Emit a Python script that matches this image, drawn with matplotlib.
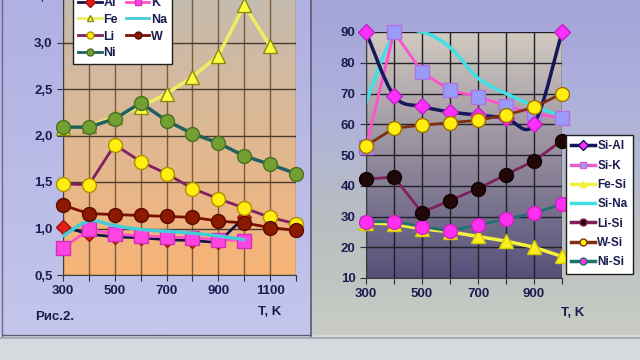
import numpy as np
import matplotlib
matplotlib.use("Agg")
import matplotlib.pyplot as plt
from matplotlib.colors import LinearSegmentedColormap
from matplotlib.path import Path
from matplotlib.patches import PathPatch, Rectangle
from matplotlib.lines import Line2D

plt.rcParams['font.family'] = ['Liberation Sans', 'DejaVu Sans']
plt.rcParams['font.weight'] = 'bold'

# ---- left chart data (Рис.2) ----
t_left = [300, 400, 500, 600, 700, 800, 900, 1000, 1100, 1200]
al = [1.02, 0.94, 0.91, 0.90, 0.88, 0.87, 0.85, 1.12]
k = [0.79, 0.99, 0.94, 0.92, 0.91, 0.90, 0.88, 0.87]
fe = [2.08, 2.10, 2.20, 2.31, 2.45, 2.63, 2.86, 3.40, 2.96]
na = [0.92, 1.08, 1.03, 0.99, 0.97, 0.95, 0.92, 0.88]
li = [1.48, 1.47, 1.90, 1.72, 1.59, 1.43, 1.32, 1.22, 1.12, 1.05]
w = [1.25, 1.16, 1.15, 1.14, 1.13, 1.12, 1.08, 1.06, 1.01, 0.98]
ni = [2.09, 2.09, 2.18, 2.35, 2.16, 2.02, 1.92, 1.78, 1.69, 1.59]
left_yticks = [0.5, 1.0, 1.5, 2.0, 2.5, 3.0, 3.5]
left_ylabels = ['0,5', '1,0', '1,5', '2,0', '2,5', '3,0', '3,5']
left_xlabels = [300, 500, 700, 900, 1100]

# ---- right chart data ----
t_right = [300, 400, 500, 600, 700, 800, 900, 1000]
si_al = [90, 69.3, 65.8, 64, 63, 62, 60, 90]
si_k = [52.7, 90, 77, 71, 69, 66, 63.5, 62]
fe_si = [28, 27.5, 26, 25, 23.5, 22, 20, 17]
si_na = [67, 89, 90, 85, 75, 70, 66, 62.5]
li_si = [42.2, 42.8, 31.3, 35.2, 39.1, 43.6, 48.1, 54.7]
w_si = [53, 58.7, 59.7, 60.5, 61.3, 63, 65.5, 70]
ni_si = [28.3, 28.3, 26.7, 25.3, 27.3, 29.1, 31.1, 34]
right_yticks = [10, 20, 30, 40, 50, 60, 70, 80, 90]
right_xlabels = [300, 500, 700, 900]

txt = '#1c1c50'


def smooth_path(xs, ys):
    # Catmull-Rom through the points, drawn as cubic Bezier segments
    pts = np.column_stack([xs, ys]).astype(float)
    verts = [pts[0]]
    codes = [Path.MOVETO]
    n = len(pts)
    for i in range(n - 1):
        p0 = pts[i - 1] if i > 0 else pts[i]
        p1 = pts[i]
        p2 = pts[i + 1]
        p3 = pts[i + 2] if i + 2 < n else pts[i + 1]
        c1 = p1 + (p2 - p0) / 6.0
        c2 = p2 - (p3 - p1) / 6.0
        verts += [c1, c2, p2]
        codes += [Path.CURVE4] * 3
    return Path(verts, codes)


def smooth_line(ax, xs, ys, color, lw, z):
    ax.add_patch(PathPatch(smooth_path(xs, ys), fill=False, edgecolor=color,
                           lw=lw, zorder=z, capstyle='round'))


def gradient(ax, top, bottom):
    cmap = LinearSegmentedColormap.from_list('g', [bottom, top])
    x0, x1 = ax.get_xlim()
    y0, y1 = ax.get_ylim()
    ax.imshow(np.linspace(0, 1, 256).reshape(-1, 1), cmap=cmap, origin='lower',
              extent=[x0, x1, y0, y1], aspect='auto', zorder=0)


fig = plt.figure(figsize=(6.4, 3.6), dpi=100)

# background
bg = fig.add_axes([0, 0, 1, 1])
bg.set_xlim(0, 640)
bg.set_ylim(360, 0)
bg.axis('off')
lcm = LinearSegmentedColormap.from_list('l', ['#b0b0e2', '#c4c6ec'])
rcm = LinearSegmentedColormap.from_list('r', ['#a4a4d8', '#b0b2dc', '#b8bec0', '#c8ccc4'])
grad = np.linspace(0, 1, 256).reshape(-1, 1)
bg.imshow(grad, cmap=lcm, extent=[0, 312, 335, 0], aspect='auto', zorder=0)
bg.imshow(grad, cmap=rcm, extent=[312, 640, 335, 0], aspect='auto', zorder=0)
bg.add_patch(Rectangle((0, 335), 640, 25, color='#d6dadf', zorder=1))
bg.plot([0, 640], [338, 338], color='#a0a4b0', lw=1.2, zorder=2)
bg.plot([311, 311], [0, 336], color='#5a5a70', lw=1.2, zorder=2)
bg.plot([2, 2], [0, 336], color='#6a6a88', lw=1.0, zorder=2)
bg.plot([2, 311], [335, 335], color='#5a5a70', lw=1.0, zorder=2)

# ---- left axes ----
ax1 = fig.add_axes([63 / 640, 1 - 275 / 360, 233 / 640, 279 / 360])
ax1.set_xlim(300, 1200)
ax1.set_ylim(0.5, 3.5)
gradient(ax1, '#c4bcb0', '#f8b476')
for x in t_left:
    ax1.axvline(x, color='#7a5a3a', lw=1.0, zorder=1)
for y in left_yticks:
    ax1.axhline(y, color='#4a3a30', lw=1.0, zorder=1)

ax1.plot(t_left[:len(fe)], fe, color='#eeee60', lw=2.5, marker='^', ms=10,
         mfc='#ffff40', mec='#8a8a10', mew=1, zorder=3, clip_on=False, label='Fe')
ax1.plot(t_left, ni, color='#1f6060', lw=2.5, marker='o', ms=10,
         mfc='#72a032', mec='#4a7020', mew=1, zorder=4, clip_on=False, label='Ni')
ax1.plot(t_left, li, color='#802060', lw=2, marker='o', ms=10,
         mfc='#ffee10', mec='#b09000', mew=1, zorder=4, clip_on=False, label='Li')
ax1.plot(t_left, w, color='#7a1000', lw=2, marker='o', ms=10,
         mfc='#8b1a00', mec='#5a0a00', mew=1, zorder=4, clip_on=False, label='W')
ax1.plot(t_left[:len(al)], al, color='#14144a', lw=2, marker='D', ms=7,
         mfc='#e02018', mec='#a01010', mew=1, zorder=3, clip_on=False, label='Al')
ax1.plot(t_left[:len(k)], k, color='#ff50c8', lw=2, marker='s', ms=10,
         mfc='#ff44e0', mec='#d030c0', mew=1, zorder=3, clip_on=False, label='K')
smooth_line(ax1, t_left[:len(na)], na, '#44ccd8', 2.5, 3.5)
ax1.plot([], [], color='#44ccd8', lw=2.5, label='Na')

ax1.set_xticks(t_left)
ax1.set_xticklabels([str(x) if x in left_xlabels else '' for x in t_left])
ax1.set_yticks(left_yticks)
ax1.set_yticklabels(left_ylabels)
ax1.tick_params(colors='#303040', labelcolor=txt, labelsize=9.5, length=4)
for s in ax1.spines.values():
    s.set_visible(False)
ax1.spines['bottom'].set_visible(True)
ax1.spines['left'].set_visible(True)
ax1.spines['bottom'].set_color('#404040')
ax1.spines['left'].set_color('#404040')

h, lab = ax1.get_legend_handles_labels()
order = ['Al', 'Fe', 'Li', 'Ni', 'K', 'Na', 'W']
hl = [h[lab.index(o)] for o in order]
handles = []
for hh in hl:
    handles.append(Line2D([], [], color=hh.get_color(), lw=2,
                          marker=hh.get_marker(), ms=5,
                          mfc=hh.get_markerfacecolor(), mec=hh.get_markeredgecolor()))
leg1 = fig.legend(handles, order, ncol=2, loc='upper left',
                  bbox_to_anchor=(73 / 640, 1 + 8 / 360), frameon=True,
                  fancybox=False, edgecolor='#202020', framealpha=1,
                  prop={'size': 9, 'weight': 'bold'}, handlelength=1.9,
                  columnspacing=0.6, labelspacing=0.38, handletextpad=0.15,
                  borderpad=0.4, borderaxespad=0)
for t in leg1.get_texts():
    t.set_color(txt)

fig.text(270 / 640, 1 - 312 / 360, 'T, K', ha='center', va='center',
         fontsize=9.5, color=txt)
fig.text(35 / 640, 1 - 317 / 360, 'Рис.2.', ha='left', va='center',
         fontsize=9.5, color=txt)

# ---- right axes ----
ax2 = fig.add_axes([366 / 640, 1 - 278 / 360, 196 / 640, 246 / 360])
ax2.set_xlim(300, 1000)
ax2.set_ylim(10, 90)
gradient(ax2, '#d2cac0', '#56507a')
for x in t_right:
    ax2.axvline(x, color='#202028', lw=1.0, zorder=1)
for y in right_yticks:
    ax2.axhline(y, color='#202028', lw=1.0, zorder=1)

smooth_line(ax2, t_right, si_na, '#40e0e4', 2.5, 2.5)
ax2.plot(t_right, fe_si, color='#f4f040', lw=2.5, marker='^', ms=10,
         mfc='#f8f020', mec='#d8c800', mew=1, zorder=3, clip_on=False, label='Fe-Si')
ax2.plot(t_right, ni_si, color='#207070', lw=2, marker='o', ms=10,
         mfc='#ff30f0', mec='#d020c0', mew=1, zorder=4, clip_on=False, label='Ni-Si')
ax2.plot(t_right, li_si, color='#802058', lw=2, marker='o', ms=10,
         mfc='#200808', mec='#100000', mew=1, zorder=4, clip_on=False, label='Li-Si')
ax2.plot(t_right, si_k, color='#ff50d0', lw=2, marker='s', ms=10,
         mfc='#9a9af8', mec='#b070e0', mew=1, zorder=3, clip_on=False, label='Si-K')
smooth_line(ax2, t_right, si_al, '#16165a', 2.5, 3.2)
ax2.plot(t_right, si_al, ls='none', marker='D', ms=8,
         mfc='#ff30ff', mec='#c020c0', mew=1, zorder=3.4, clip_on=False)
ax2.plot(t_right, w_si, color='#803010', lw=2, marker='o', ms=10,
         mfc='#ffee10', mec='#a07000', mew=1, zorder=4, clip_on=False, label='W-Si')

ax2.set_xticks(t_right)
ax2.set_xticklabels([str(x) if x in right_xlabels else '' for x in t_right])
ax2.set_yticks(right_yticks)
ax2.tick_params(colors='#303040', labelcolor=txt, labelsize=9.5, length=4)
for s in ax2.spines.values():
    s.set_visible(False)
ax2.spines['bottom'].set_visible(True)
ax2.spines['left'].set_visible(True)
ax2.spines['bottom'].set_color('#404040')
ax2.spines['left'].set_color('#404040')

rl = ['Si-Al', 'Si-K', 'Fe-Si', 'Si-Na', 'Li-Si', 'W-Si', 'Ni-Si']
rstyle = {
    'Si-Al': ('#16165a', 'D', '#ff30ff'),
    'Si-K': ('#e060d0', 's', '#9a9af8'),
    'Fe-Si': ('#f4f040', '^', '#f8f020'),
    'Si-Na': ('#40e0e4', None, None),
    'Li-Si': ('#802058', 'o', '#200808'),
    'W-Si': ('#803010', 'o', '#ffee10'),
    'Ni-Si': ('#207070', 'o', '#ff30f0'),
}
rh = []
for name in rl:
    c, m, f = rstyle[name]
    rh.append(Line2D([], [], color=c, lw=2.5, marker=m, ms=5, mfc=f, mec=c))
leg2 = fig.legend(rh, rl, loc='upper left', bbox_to_anchor=(566 / 640, 1 - 135 / 360),
                  frameon=True, fancybox=False, edgecolor='#202020', framealpha=1,
                  prop={'size': 8.5, 'weight': 'bold'}, handlelength=2.0,
                  labelspacing=0.62, handletextpad=0.2, borderpad=0.45,
                  borderaxespad=0)
for t in leg2.get_texts():
    t.set_color(txt)

fig.text(573 / 640, 1 - 313 / 360, 'T, K', ha='center', va='center',
         fontsize=9.5, color=txt)

fig.savefig('out.png', dpi=100)
